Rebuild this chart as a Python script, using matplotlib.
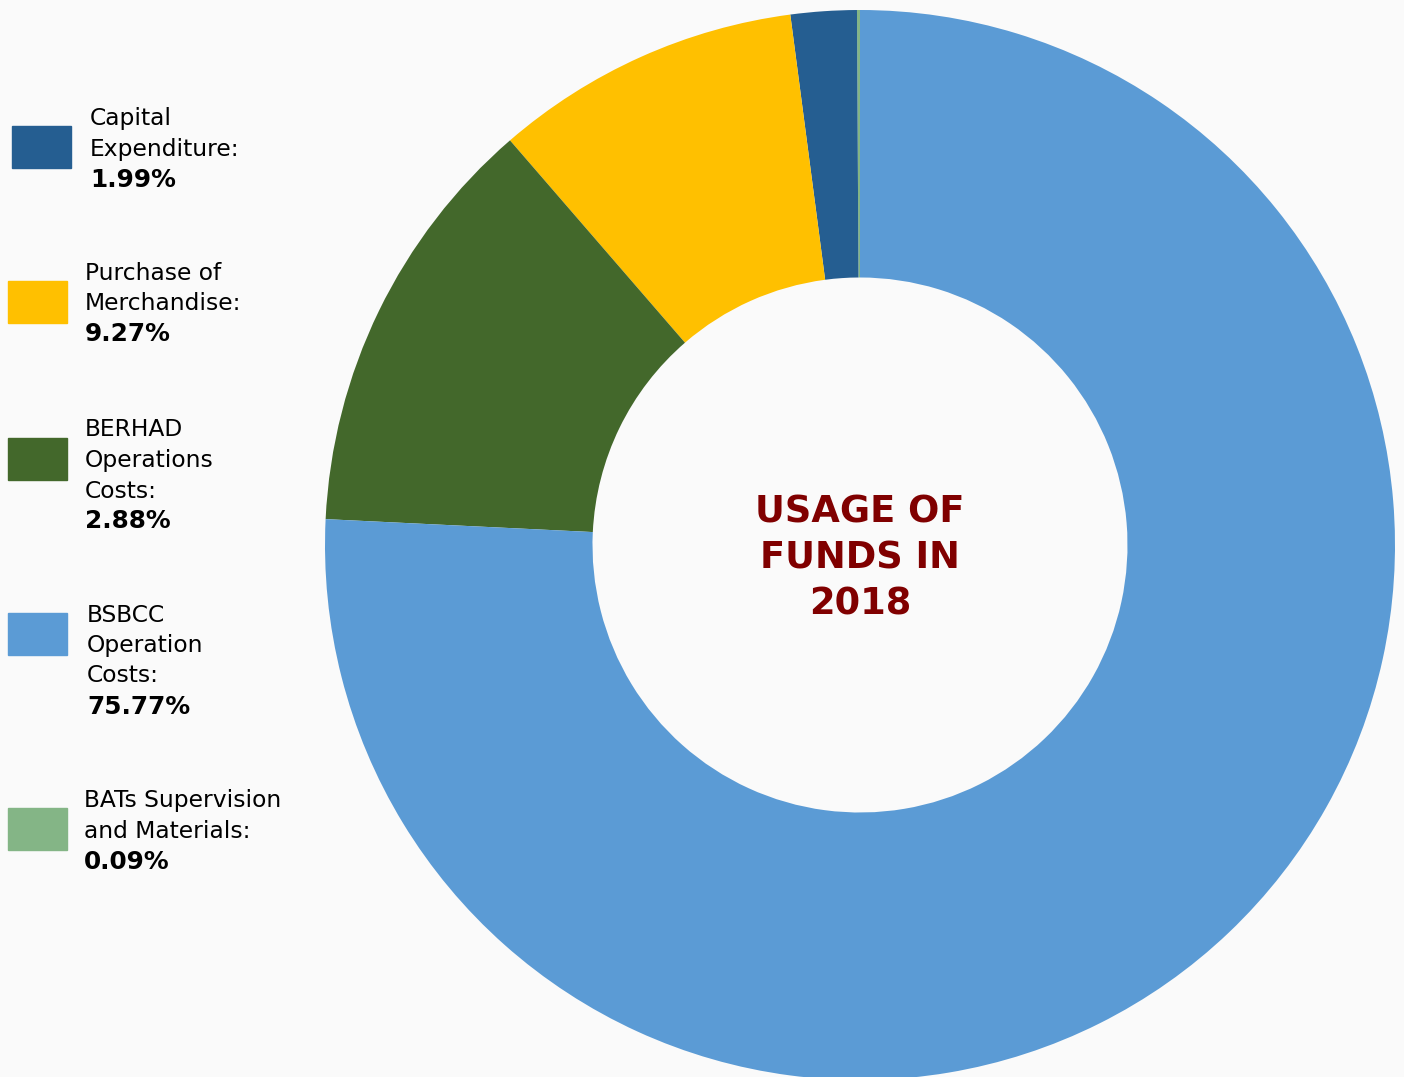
import matplotlib.pyplot as plt
from matplotlib.patches import Rectangle

# slice values, counter-clockwise from 12 o'clock (BERHAD slice drawn at its true size)
slice_names = ['BATs Supervision and Materials', 'Capital Expenditure',
               'Purchase of Merchandise', 'BERHAD Operations Costs',
               'BSBCC Operation Costs']
slice_vals = [0.09, 1.99, 9.27, 12.88, 75.77]
slice_cols = ['#84B586', '#255E91', '#FFC000', '#43682B', '#5B9BD5']

# legend entries as shown on the picture
leg_lines = [['Capital', 'Expenditure:'],
             ['Purchase of', 'Merchandise:'],
             ['BERHAD', 'Operations', 'Costs:'],
             ['BSBCC', 'Operation', 'Costs:'],
             ['BATs Supervision', 'and Materials:']]
leg_pct = ['1.99%', '9.27%', '2.88%', '75.77%', '0.09%']
leg_cols = ['#255E91', '#FFC000', '#43682B', '#5B9BD5', '#84B586']

W, H = 1404, 1077
bg = '#FAFAFA'
fig = plt.figure(figsize=(W/100, H/100), dpi=100, facecolor=bg)

# donut: centre (860, 545) px, outer radius 535 px
cx, cy, R = 860, 545, 535
ax = fig.add_axes([(cx-R)/W, (H-cy-R)/H, 2*R/W, 2*R/H])
ax.set_facecolor(bg)
ax.pie(slice_vals, colors=slice_cols, startangle=90, counterclock=True,
       radius=1, wedgeprops=dict(width=0.5, linewidth=0))
ax.set_xlim(-1, 1); ax.set_ylim(-1, 1)
ax.set_aspect('equal')
ax.axis('off')

title = ['USAGE OF', 'FUNDS IN', '2018']
for i, t in enumerate(title):
  fig.text(cx/W, 1-(512+46*i)/H, t, ha='center', va='center',
           fontsize=26.5, fontweight='bold', color='#800000')

# legend, in pixel positions
box_x  = [12, 8, 8, 8, 8]
box_y  = [126, 281, 438, 613, 808]
text_x = [90, 85, 85, 87, 84]
text_y = [119, 273, 430, 615, 801]
step = 30.5
for i in range(len(leg_lines)):
  fig.patches.append(Rectangle((box_x[i]/W, 1-(box_y[i]+42)/H), 59/W, 42/H,
                               transform=fig.transFigure, color=leg_cols[i]))
  lines = leg_lines[i] + [leg_pct[i]]
  for j, ln in enumerate(lines):
    bold = j == len(lines)-1
    fig.text(text_x[i]/W, 1-(text_y[i]+step*j)/H, ln, ha='left', va='center',
             fontsize=17.8 if bold else 16.8, color='black',
             fontweight='bold' if bold else 'normal')

fig.savefig('out.png', dpi=100, facecolor=bg)
